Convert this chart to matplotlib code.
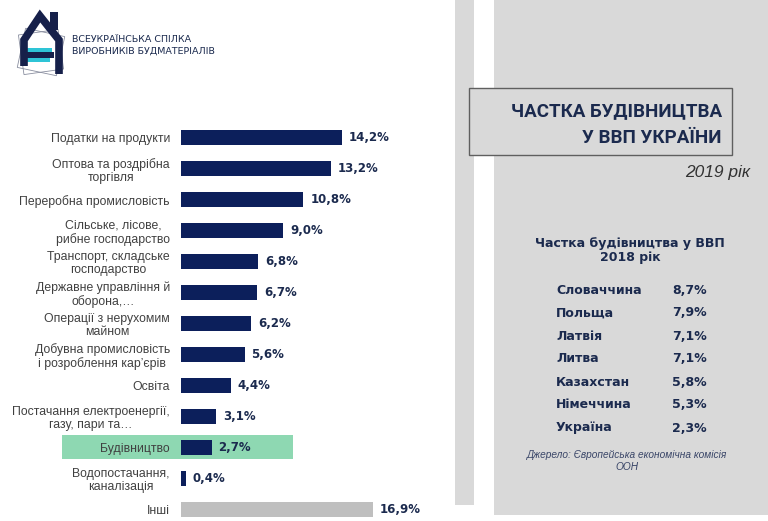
import numpy as np
import matplotlib.pyplot as plt
from matplotlib.patches import Rectangle, Polygon

# sectors, share of GDP 2019
sectors = ['Податки на продукти', 'Оптова та роздрібна\nторгівля', 'Переробна промисловість',
           'Сільське, лісове,\nрибне господарство', 'Транспорт, складське\nгосподарство',
           'Державне управління й\nоборона,…', 'Операції з нерухомим\nмайном',
           'Добувна промисловість\nі розроблення кар’єрів', 'Освіта',
           'Постачання електроенергії,\nгазу, пари та…', 'Будівництво',
           'Водопостачання,\nканалізація', 'Інші']
shares = [14.2, 13.2, 10.8, 9.0, 6.8, 6.7, 6.2, 5.6, 4.4, 3.1, 2.7, 0.4, 16.9]
highlight = 'Будівництво'
other = 'Інші'

# side table, 2018
countries = ['Словаччина', 'Польща', 'Латвія', 'Литва', 'Казахстан', 'Німеччина', 'Україна']
country_shares = [8.7, 7.9, 7.1, 7.1, 5.8, 5.3, 2.3]

NAVY = '#0c1f5b'
TEXT_NAVY = '#1b2a4e'
GRAY_PANEL = '#d9d9d9'
W, H = 768, 521


def pct(v):
    return f'{v:.1f}%'.replace('.', ',')


def px(x0, y0, x1, y1):
    # pixel box (top-left origin) -> figure fraction rect
    return [x0 / W, 1 - y1 / H, (x1 - x0) / W, (y1 - y0) / H]


fig = plt.figure(figsize=(W / 100, H / 100), dpi=100)
fig.patch.set_facecolor('white')

# background axes in pixel coordinates
bg = fig.add_axes([0, 0, 1, 1], zorder=0)
bg.set_xlim(0, W)
bg.set_ylim(H, 0)
bg.axis('off')

# right gray panel
bg.add_patch(Rectangle((455, 0), 19, 505, color=GRAY_PANEL, lw=0))
bg.add_patch(Rectangle((494, 0), W - 494, 515, color=GRAY_PANEL, lw=0))
bg.add_patch(Rectangle((469, 88), 263, 67, facecolor=GRAY_PANEL, edgecolor='#5f5f5f', lw=1.0))

bg.text(722, 111, 'ЧАСТКА БУДІВНИЦТВА', ha='right', va='center', fontsize=13.5,
        fontweight='bold', color=TEXT_NAVY, family='Roboto')
bg.text(722, 138, 'У ВВП УКРАЇНИ', ha='right', va='center', fontsize=13.5,
        fontweight='bold', color=TEXT_NAVY, family='Roboto')
bg.text(750, 172, '2019 рік', ha='right', va='center', fontsize=12.5,
        style='italic', color='#333333', family='Liberation Sans')

bg.text(630, 243, 'Частка будівництва у ВВП', ha='center', va='center', fontsize=9,
        fontweight='bold', color=TEXT_NAVY)
bg.text(630, 258, '2018 рік', ha='center', va='center', fontsize=9,
        fontweight='bold', color=TEXT_NAVY)
for i, (c, v) in enumerate(zip(countries, country_shares)):
    y = 290 + i * 23
    bg.text(556, y, c, ha='left', va='center', fontsize=9, fontweight='bold', color=TEXT_NAVY)
    bg.text(672, y, pct(v), ha='left', va='center', fontsize=9, fontweight='bold', color=TEXT_NAVY)
bg.text(627, 455, 'Джерело: Європейська економічна комісія', ha='center', va='center',
        fontsize=7.3, style='italic', color='#3a4668', family='Liberation Sans')
bg.text(627, 467, 'ООН', ha='center', va='center', fontsize=7.3, style='italic',
        color='#3a4668', family='Liberation Sans')

# logo (rough sketch of the house mark)
for ang in (12, -8):
    t = np.deg2rad(ang)
    sq = np.array([[-20, -20], [20, -20], [20, 20], [-20, 20]])
    rot = sq @ np.array([[np.cos(t), np.sin(t)], [-np.sin(t), np.cos(t)]])
    bg.add_patch(Polygon(rot + [41, 52], closed=True, fill=False, edgecolor='#8a8fa0', lw=0.6))
bg.add_patch(Rectangle((22, 48), 30, 5, color='#2ec4d6', lw=0))
bg.add_patch(Rectangle((22, 58), 28, 4, color='#2ec4d6', lw=0))
bg.add_patch(Rectangle((27, 52), 27, 6, color='#16204a', lw=0))
bg.add_patch(Rectangle((50, 12), 8, 18, color='#16204a', lw=0))
bg.plot([24, 24, 40, 59, 59], [66, 40, 16, 40, 74], color='#16204a', lw=5.5,
        solid_joinstyle='miter', solid_capstyle='butt')
bg.text(72, 39, 'ВСЕУКРАЇНСЬКА СПІЛКА', ha='left', va='center', fontsize=6.8, color=TEXT_NAVY)
bg.text(72, 51, 'ВИРОБНИКІВ БУДМАТЕРІАЛІВ', ha='left', va='center', fontsize=6.8, color=TEXT_NAVY)

# highlight band behind construction row
hi = sectors.index(highlight)
yc = 138 + hi * 30.93
bg.add_patch(Rectangle((62, yc - 12), 231, 24, color='#8ed8b2', lw=0))

# bar chart
ax = fig.add_axes(px(181, 122.5, 420, 524.5), zorder=1)
ax.patch.set_alpha(0)
ypos = np.arange(len(sectors))
colors = ['#bfbfbf' if s == other else NAVY for s in sectors]
ax.barh(ypos, shares, height=0.485, color=colors)
ax.set_xlim(0, 239 / 11.34)
ax.set_ylim(len(sectors) - 0.5, -0.5)
ax.set_yticks(ypos)
ax.set_yticklabels(sectors, fontsize=8.8, color='#404040', family='Liberation Sans',
                   multialignment='center', linespacing=1.1)
ax.tick_params(axis='y', length=0, pad=8)
ax.set_xticks([])
for s in ax.spines.values():
    s.set_visible(False)
for y, v in zip(ypos, shares):
    ax.annotate(pct(v), (v, y), xytext=(5, 0), textcoords='offset points',
                ha='left', va='center', fontsize=8.5, fontweight='bold', color=TEXT_NAVY,
                annotation_clip=False)

fig.savefig('out.png', dpi=100)
